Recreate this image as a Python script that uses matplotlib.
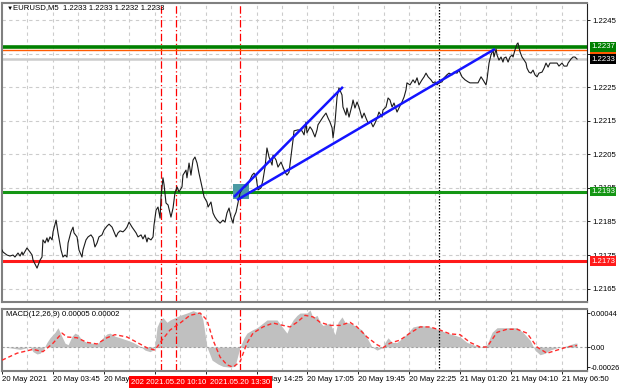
import matplotlib
matplotlib.use("Agg")
import matplotlib.pyplot as plt
import matplotlib.transforms as mtransforms

plt.rcParams['font.family'] = ['Liberation Sans', 'DejaVu Sans']

# EURUSD M5 close line, vertices (bar number from 20 May 00:00, price)
price_bar = [0, 0.6, 3.1, 5, 6.9, 8.1, 10, 11.3, 12.5, 13.1,
             15.6, 17.5, 18.8, 19.4, 21.9, 23.8, 25, 25.6, 26.9, 28.1,
             28.8, 30, 31.3, 31.9, 33.8, 35, 36.9, 38.1, 39.4, 40.6,
             41.3, 43.1, 44.4, 45, 46.9, 48.1, 50, 50.6, 52.5, 53.8,
             55.6, 56.9, 58.1, 59.4, 60.6, 62.5, 63.8, 65.6, 66.9, 68.8,
             70, 71.3, 72.5, 73.8, 75.6, 76.9, 78.1, 79.4, 81.3, 82.5,
             83.8, 85, 86.9, 88.1, 89.4, 90.6, 91.3, 93.1, 94.4, 95,
             96.3, 97.5, 98.8, 99.4, 100.6, 101.3, 102.5, 103.8, 105.6, 106.9,
             108.1, 109.4, 110.6, 112.5, 113.1, 115, 115.6, 116.9, 118.1, 119.4,
             120.6, 121.9, 123.1, 125, 126.3, 128.1, 128.8, 130.6, 131.9, 133.1,
             134.4, 136.3, 138.1, 139.4, 140.6, 141.9, 143.1, 144.4, 145, 146.3,
             147.5, 148.8, 150.6, 151.9, 153.1, 154.4, 156.3, 157.5, 158.8, 160,
             161.9, 163.1, 164.4, 165.6, 166.9, 168.8, 169.4, 171.3, 172.5, 174.4,
             175.6, 176.9, 178.1, 179.4, 180.6, 181.9, 182.5, 185, 187.5, 188.8,
             190, 190.6, 192.5, 193.8, 195.6, 196.9, 197.5, 199.4, 200.6, 202.5,
             203.8, 205, 206.3, 206.9, 208.1, 209.4, 210.6, 212.5, 213.1, 215,
             215.6, 216.9, 218.8, 219.4, 220.6, 221.9, 223.1, 225, 226.3, 227.5,
             228.8, 230.6, 231.9, 233.1, 234.4, 235.6, 237.5, 238.1, 240, 241.3,
             242.5, 243.8, 245, 246.9, 248.1, 250, 251.3, 252.5, 253.1, 255,
             256.9, 258.1, 259.4, 260.6, 262.5, 263.8, 265, 266.3, 268.1, 269.4,
             270.6, 271.9, 273.1, 275, 276.3, 278.1, 279.4, 281.3, 282.5, 284.4,
             285.6, 287.5, 289.4, 291.3, 292.5, 295.6, 297.5, 299.4, 300.6, 302.5,
             303.1, 304.4, 305.6, 306.9, 307.5, 308.8, 309.4, 310.6, 311.9, 313.1,
             313.8, 315, 316.3, 317.5, 318.8, 319.4, 320.6, 321.9, 322.5, 323.8,
             325, 326.3, 327.5, 328.1, 329.4, 330.6, 331.9, 333.1, 334.4, 335.6,
             337.5, 338.8, 340, 341.3, 342.5, 344.4, 346.9, 348.1, 350, 351.3,
             353.1, 353.8, 355.6, 356.9, 358.1, 359.4]
price_close = [1.21765, 1.21759, 1.21750, 1.21747, 1.21750, 1.21744, 1.21756, 1.21747, 1.21759, 1.21750,
               1.21771, 1.21759, 1.21750, 1.21735, 1.21711, 1.21735, 1.21744, 1.21795, 1.21786, 1.21801,
               1.21789, 1.21804, 1.21795, 1.21819, 1.21854, 1.21816, 1.21765, 1.21744, 1.21750, 1.21744,
               1.21786, 1.21819, 1.21833, 1.21816, 1.21804, 1.21765, 1.21744, 1.21765, 1.21795, 1.21804,
               1.21810, 1.21801, 1.21774, 1.21786, 1.21804, 1.21810, 1.21825, 1.21836, 1.21842, 1.21833,
               1.21819, 1.21804, 1.21816, 1.21822, 1.21819, 1.21825, 1.21833, 1.21848, 1.21833, 1.21825,
               1.21816, 1.21804, 1.21810, 1.21798, 1.21810, 1.21789, 1.21801, 1.21795, 1.21804, 1.21839,
               1.21884, 1.21893, 1.21860, 1.21923, 1.21980, 1.21959, 1.21905, 1.21899, 1.21863, 1.21890,
               1.21935, 1.21953, 1.21938, 1.21953, 1.21988, 1.22003, 1.21980, 1.22024, 1.21988, 1.22033,
               1.22042, 1.22024, 1.21994, 1.21953, 1.21923, 1.21908, 1.21893, 1.21908, 1.21875, 1.21863,
               1.21854, 1.21845, 1.21854, 1.21848, 1.21875, 1.21890, 1.21863, 1.21845, 1.21863, 1.21878,
               1.21905, 1.21935, 1.21950, 1.21953, 1.21959, 1.21968, 1.21988, 1.21994, 1.21983, 1.21944,
               1.21950, 1.21974, 1.22012, 1.22069, 1.22042, 1.22018, 1.22048, 1.22033, 1.22012, 1.22027,
               1.22012, 1.21997, 1.21988, 1.21997, 1.22042, 1.22093, 1.22120, 1.22123, 1.22120, 1.22108,
               1.22146, 1.22114, 1.22132, 1.22123, 1.22102, 1.22123, 1.22138, 1.22152, 1.22161, 1.22173,
               1.22158, 1.22146, 1.22129, 1.22099, 1.22143, 1.22221, 1.22248, 1.22227, 1.22191, 1.22167,
               1.22188, 1.22161, 1.22197, 1.22212, 1.22188, 1.22206, 1.22191, 1.22158, 1.22173, 1.22158,
               1.22143, 1.22146, 1.22132, 1.22143, 1.22158, 1.22176, 1.22161, 1.22182, 1.22191, 1.22218,
               1.22212, 1.22191, 1.22203, 1.22176, 1.22188, 1.22206, 1.22221, 1.22242, 1.22263, 1.22257,
               1.22272, 1.22263, 1.22278, 1.22257, 1.22272, 1.22281, 1.22292, 1.22281, 1.22272, 1.22263,
               1.22266, 1.22257, 1.22263, 1.22266, 1.22278, 1.22287, 1.22292, 1.22287, 1.22295, 1.22292,
               1.22301, 1.22281, 1.22272, 1.22266, 1.22263, 1.22263, 1.22263, 1.22281, 1.22272, 1.22257,
               1.22272, 1.22322, 1.22346, 1.22361, 1.22340, 1.22364, 1.22346, 1.22331, 1.22340, 1.22325,
               1.22337, 1.22340, 1.22325, 1.22340, 1.22346, 1.22340, 1.22361, 1.22379, 1.22382, 1.22355,
               1.22340, 1.22331, 1.22322, 1.22307, 1.22295, 1.22292, 1.22301, 1.22287, 1.22281, 1.22292,
               1.22295, 1.22307, 1.22322, 1.22310, 1.22322, 1.22322, 1.22322, 1.22313, 1.22322, 1.22313,
               1.22313, 1.22322, 1.22334, 1.22340, 1.22340, 1.22334]

# MACD(12,26,9) histogram and signal
macd_bar = [0, 5, 11.3, 17.5, 19.4, 21.9, 23.8, 25.6, 28.1, 30,
            33.1, 35, 36.9, 39.4, 41.3, 43.8, 45.6, 47.5, 50, 53.1,
            56.3, 59.4, 63.1, 65.6, 67.5, 70.6, 73.8, 78.1, 81.9, 86.3,
            89.4, 92.5, 94.4, 95.6, 96.9, 98.8, 100.6, 103.1, 105, 108.1,
            111.3, 115.6, 119.4, 121.9, 123.8, 125.6, 128.1, 131.3, 135, 138.1,
            142.5, 145.6, 148.8, 151.3, 153.1, 156.3, 159.4, 162.5, 165.6, 168.8,
            171.9, 174.4, 178.1, 180, 181.9, 184.4, 186.3, 190.6, 192.5, 194.4,
            196.9, 198.8, 200.6, 205, 208.1, 210, 212.5, 214.4, 217.5, 221.9,
            225, 228.1, 231.3, 234.4, 237.5, 239.4, 241.3, 243.8, 246.9, 250.6,
            253.8, 256.9, 261.3, 265.6, 269.4, 273.8, 278.1, 281.9, 286.3, 290.6,
            294.4, 298.8, 303.1, 306.3, 309.4, 313.1, 317.5, 321.9, 325.6, 330,
            333.1, 336.3, 339.4, 342.5, 346.9, 350.6, 355, 358.1, 359.4]
macd_hist = [0, -0.00001, -0.00003, 0, -0.00006, -0.00009, -0.00008, -0.00004, 0.00006, 0.00012,
             0.00019, 0.00025, 0.00016, 0.00005, 0.00003, 0.00014, 0.00018, 0.00016, 0.00009, 0.00006,
             0.00005, 0.00004, 0.00012, 0.00017, 0.00018, 0.00014, 0.00012, 0.00009, 0.00006, 0.00001,
             -0.00004, -0.00006, -0.00004, 0.00003, 0.00026, 0.00035, 0.00038, 0.00032, 0.00035, 0.00038,
             0.00041, 0.00044, 0.00047, 0.00045, 0.00045, 0.00035, 0, -0.00017, -0.00022, -0.00025,
             -0.00026, -0.00025, 0, 0.00012, 0.00018, 0.00022, 0.00025, 0.00030, 0.00035, 0.00035,
             0.00035, 0.00028, 0.00018, 0.00028, 0.00035, 0.00041, 0.00044, 0.00044, 0.00048, 0.00038,
             0.00041, 0.00032, 0.00028, 0.00031, 0.00016, 0.00032, 0.00039, 0.00032, 0.00031, 0.00026,
             0.00022, 0.00012, 0, -0.00004, -0.00001, 0.00006, 0.00012, 0.00006, 0.00006, 0.00012,
             0.00019, 0.00026, 0.00028, 0.00027, 0.00025, 0.00022, 0.00018, 0.00016, 0.00013, 0.00006,
             0.00003, 0, 0.00003, 0.00019, 0.00025, 0.00025, 0.00025, 0.00025, 0.00019, 0.00009,
             -0.00004, -0.00010, -0.00008, -0.00004, -0.00001, 0, 0.00003, 0.00005, 0.00005]
signal_bar = [0, 9.4, 19.4, 25.6, 31.9, 37.5, 40.6, 46.9, 53.1, 59.4,
              65.6, 70.6, 78.1, 84.4, 90.6, 95.6, 100, 105, 111.3, 117.5,
              123.8, 128.1, 131.9, 136.3, 140.6, 144.4, 148.8, 153.1, 156.9, 163.1,
              169.4, 175.6, 180, 184.4, 189.4, 194.4, 198.8, 205, 211.3, 217.5,
              221.9, 228.1, 234.4, 238.1, 242.5, 248.8, 255, 261.3, 267.5, 273.8,
              280, 286.3, 292.5, 298.8, 303.1, 309.4, 315.6, 321.9, 328.1, 334.4,
              340.6, 346.9, 353.1, 359.4]
signal_val = [-0.00017, -0.00008, -0.00003, -0.00006, 0.00005, 0.00018, 0.00013, 0.00012, 0.00006, 0.00004,
              0.00012, 0.00016, 0.00013, 0.00006, -0.00001, -0.00004, 0.00009, 0.00022, 0.00031, 0.00041,
              0.00044, 0.00035, 0.00009, -0.00013, -0.00023, -0.00026, -0.00019, 0.00005, 0.00018, 0.00026,
              0.00031, 0.00028, 0.00026, 0.00032, 0.00041, 0.00039, 0.00032, 0.00028, 0.00028, 0.00032,
              0.00026, 0.00013, 0.00003, -0.00001, 0.00005, 0.00009, 0.00018, 0.00026, 0.00026, 0.00022,
              0.00017, 0.00016, 0.00006, 0, 0, 0.00019, 0.00023, 0.00023, 0.00018, 0,
              -0.00008, -0.00004, 0, 0.00002]

time_labels = ["20 May 2021", "20 May 03:45", "20 May 06:25", "20 May 09:05",
               "20 May 11:45", "20 May 14:25", "20 May 17:05", "20 May 19:45",
               "20 May 22:25", "21 May 01:20", "21 May 04:10", "21 May 06:50"]
price_ticks = [1.2165, 1.2175, 1.2185, 1.2195, 1.2205, 1.2215, 1.2225, 1.2235, 1.2245]
macd_ticks = [0.00044, 0.0, -0.00026]
macd_tick_labels = ["0.00044", "0.00", "-0.00026"]

# horizontal levels drawn where they sit on the chart, labelled as shown
level_price = [1.22360, 1.22370, 1.22334, 1.21939, 1.21732]
level_text = ["1.2236", "1.2237", "1.2233", "1.2193", "1.2173"]

trend_bar = [[145, 213.1], [146.9, 308.1]]
trend_price = [[1.21923, 1.22251], [1.21914, 1.22364]]
box_bar = [144.4, 154.4]
box_price = [1.21917, 1.21962]

event_bar = [99.4, 108.8, 148.8]
event_text = ["2021.05.20 09:25", "2021.05.20 10:10", "2021.05.20 13:30"]
dotted_bar = 273.1

W, H = 620, 388
PX_BAR = 1.6
GRID = 25.45 / PX_BAR
XMAX = 585 / PX_BAR
FS = 5.6

fig = plt.figure(figsize=(W / 100, H / 100), dpi=100)
ax = fig.add_axes([2 / W, 1 - 302 / H, 585 / W, 299 / H])
ax2 = fig.add_axes([2 / W, 1 - 371 / H, 585 / W, 62 / H])

for a in (ax, ax2):
    a.set_xlim(0, XMAX)
    for k in range(1, 23):
        a.axvline(k * GRID, color='#cccccc', lw=0.8, ls=(0, (3, 3)), zorder=0)
    for b in event_bar:
        a.axvline(b, color='#ff0000', lw=0.9, ls=(0, (6, 2, 1, 2)), zorder=2)
    a.axvline(dotted_bar, color='black', lw=0.9, ls=(0, (1.2, 1.2)), zorder=2)
    for s in ('left', 'top', 'bottom'):
        a.spines[s].set_color('#808080')
        a.spines[s].set_linewidth(1.5)
    a.spines['right'].set_color('#202020')
    a.spines['right'].set_linewidth(0.8)
    a.yaxis.tick_right()
    a.tick_params(axis='y', length=2.2, width=0.7, pad=2, labelsize=FS, color='#202020')

# main price panel
ax.set_ylim(1.21610, 1.22501)
ax.set_yticks(price_ticks)
ax.set_yticklabels([f"{t:.4f}" for t in price_ticks])
ax.tick_params(axis='x', bottom=False, labelbottom=False)
for t in price_ticks:
    ax.axhline(t, color='#cccccc', lw=0.8, ls=(0, (3, 3)), zorder=0)

ax.axhline(level_price[2], color='#cccccc', lw=1.8, zorder=1)
ax.axhline(level_price[0], color='#ff5a00', lw=1.0, zorder=2)
ax.axhline(level_price[1], color='#008000', lw=2.6, zorder=2)
ax.axhline(level_price[3], color='#149614', lw=2.2, zorder=2)
ax.axhline(level_price[4], color='#ff1a1a', lw=2.2, zorder=2)

ax.fill_between(box_bar, box_price[0], box_price[1], color='#4b9aa3', lw=0, zorder=3)
ax.plot(price_bar, price_close, color='#1a1a1a', lw=0.8, zorder=4)
for xb, yp in zip(trend_bar, trend_price):
    ax.plot(xb, yp, color='#1414ff', lw=1.8, solid_capstyle='butt', zorder=5)

trans = mtransforms.blended_transform_factory(ax.transAxes, ax.transData)
box_colors = ['#ff5a00', '#008000', '#000000', '#149614', '#ff1a1a']
for i, (v, txt, c) in enumerate(zip(level_price, level_text, box_colors)):
    ax.text(1 + 4 / 585, v, txt, transform=trans, ha='left', va='center',
            fontsize=FS, color='white', clip_on=False, zorder=10 + i,
            bbox=dict(boxstyle='square,pad=0.18', fc=c, ec='none'))

# MACD panel
ax2.set_ylim(-0.000310, 0.000492)
ax2.fill_between(macd_bar, macd_hist, 0, color='#c0c0c0', lw=0, zorder=1)
ax2.axhline(0, color='#a0a0a0', lw=0.8, ls=(0, (2, 2)), zorder=1.5)
ax2.plot(signal_bar, signal_val, color='#ff2a2a', lw=1.0, ls=(0, (3, 2)), zorder=3)
ax2.set_yticks(macd_ticks)
ax2.set_yticklabels(macd_tick_labels)
ax2.tick_params(axis='y', pad=0.8, labelsize=5.3)

xt = [k * 2 * GRID for k in range(len(time_labels))]
ax2.set_xticks(xt)
ax2.set_xticklabels(time_labels)
ax2.tick_params(axis='x', length=2.2, width=0.7, pad=1.5, labelsize=FS, color='#202020')
for lab in ax2.get_xticklabels():
    lab.set_horizontalalignment('left')

etrans = mtransforms.blended_transform_factory(ax2.transData, ax2.transAxes)
for i, (b, txt) in enumerate(zip(event_bar, event_text)):
    ax2.text(b, -(382 - 371) / 62, txt, transform=etrans, ha='center', va='center',
             fontsize=FS, color='white', clip_on=False, zorder=20 + i,
             bbox=dict(boxstyle='square,pad=0.3', fc='#ff0000', ec='none'))

fig.text(7 / W, 1 - 8 / H, "\u25bc", fontsize=4.5, va='center', ha='left')
fig.text(13 / W, 1 - 8 / H, "EURUSD,M5  1.2233 1.2233 1.2232 1.2233", fontsize=FS, va='center', ha='left')
fig.text(6 / W, 1 - 315 / H, "MACD(12,26,9) 0.00005 0.00002", fontsize=FS, va='center', ha='left')

fig.savefig("out.png", dpi=100, facecolor='white')
